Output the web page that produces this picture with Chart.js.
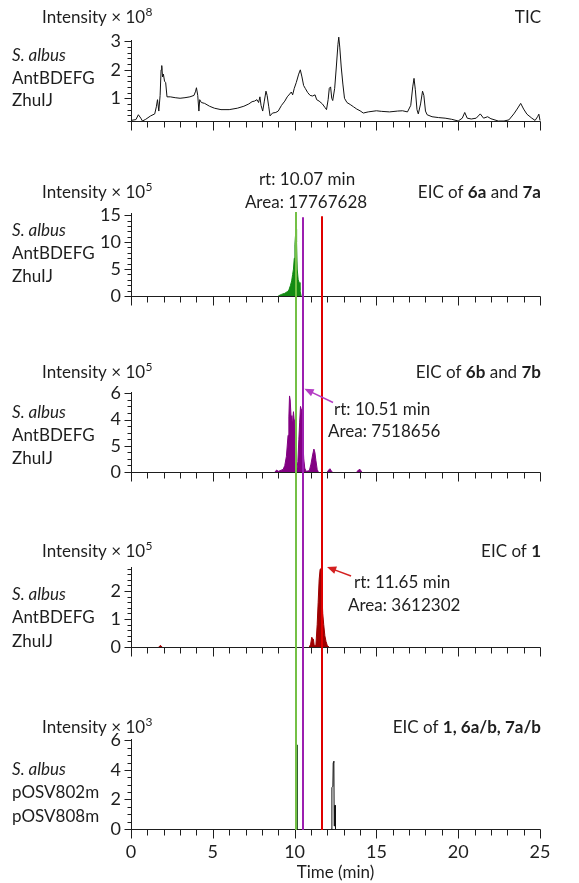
<!DOCTYPE html>
<html>
<head>
<meta charset="utf-8">
<script src="https://cdn.jsdelivr.net/npm/chart.js@4.4.1/dist/chart.umd.min.js"></script>
<style>
  html, body { margin: 0; padding: 0; background: #fff; }
  #wrap { position: relative; width: 579px; height: 883px; }
</style>
</head>
<body>
<div id="wrap"><canvas id="c" width="579" height="883"></canvas></div>
<script>
const FONT = 'Lato, "Open Sans", sans-serif';
const INK = '#1e1e1e';

// shared time axis (min)
const timeTicks = [0, 5, 10, 15, 20, 25];

// TIC, intensity x 10^8
const ticTime = [0, 0.3, 0.45, 0.6, 0.7, 0.9, 1.2, 1.45, 1.55, 1.62, 1.7, 1.78, 1.84, 1.88, 1.93, 1.98, 2.05, 2.12, 2.2, 2.4,
  2.7, 3.0, 3.3, 3.6, 3.85, 3.95, 4.0, 4.08, 4.15, 4.2, 4.3, 4.5, 4.8, 5.1, 5.5, 6.0, 6.5, 6.9, 7.2, 7.4,
  7.55, 7.7, 7.8, 7.88, 7.95, 8.05, 8.15, 8.25, 8.32, 8.42, 8.5, 8.65, 8.85, 9.0, 9.2, 9.4, 9.55, 9.7, 9.8, 9.88,
  9.98, 10.1, 10.25, 10.35, 10.45, 10.55, 10.65, 10.8, 10.95, 11.1, 11.25, 11.35, 11.5, 11.7, 11.85, 11.95, 12.05, 12.12, 12.2, 12.27,
  12.33, 12.45, 12.55, 12.65, 12.7, 12.76, 12.85, 12.95, 13.05, 13.2, 13.4, 13.6, 13.8, 14.0, 14.2, 14.5, 15.0, 15.3, 15.8, 16.3,
  16.6, 16.9, 17.1, 17.22, 17.3, 17.38, 17.48, 17.56, 17.7, 17.82, 17.9, 18.0, 18.1, 18.4, 18.8, 19.2, 19.6, 20.0, 20.25, 20.4,
  20.55, 20.8, 21.1, 21.35, 21.55, 21.8, 22.0, 22.45, 22.8, 23.1, 23.4, 23.6, 23.82, 24.0, 24.2, 24.5, 24.7, 24.85, 24.93, 25.0];
const ticInt = [0.22, 0.25, 0.42, 0.3, 0.2, 0.26, 0.38, 0.45, 0.7, 0.95, 0.55, 1.1, 2.0, 2.15, 1.75, 1.85, 1.6, 1.55, 1.05, 1.05,
  1.02, 1.0, 1.02, 1.05, 1.1, 1.25, 1.37, 1.1, 0.55, 0.95, 0.85, 0.82, 0.72, 0.65, 0.6, 0.6, 0.65, 0.72, 0.8, 0.88,
  0.9, 0.95, 0.85, 1.05, 0.75, 0.55, 0.9, 1.25, 1.1, 0.7, 0.38, 0.48, 0.5, 0.55, 0.75, 0.9, 1.05, 1.15, 1.22, 1.12,
  1.35, 1.55, 1.85, 2.0, 1.75, 1.45, 1.35, 1.2, 1.1, 1.08, 1.12, 0.95, 0.9, 0.8, 0.68, 0.6, 0.95, 1.35, 1.4, 1.0,
  0.92, 1.35, 2.1, 2.9, 3.15, 2.8, 2.1, 1.5, 1.0, 0.85, 0.78, 0.7, 0.62, 0.56, 0.48, 0.52, 0.56, 0.54, 0.52, 0.55,
  0.56, 0.52, 0.75, 1.4, 1.7, 1.3, 0.6, 0.45, 0.8, 1.25, 1.1, 0.55, 0.42, 0.35, 0.32, 0.3, 0.26, 0.2, 0.3, 0.5,
  0.3, 0.27, 0.3, 0.45, 0.3, 0.35, 0.28, 0.2, 0.2, 0.24, 0.45, 0.62, 0.82, 0.62, 0.44, 0.3, 0.22, 0.35, 0.44, 0.22];
const ticTicks = [1, 2, 3];

// EIC of 6a and 7a, intensity x 10^5
const eicATime = [9.0, 9.2, 9.4, 9.55, 9.65, 9.75, 9.82, 9.88, 9.93, 9.98, 10.02, 10.05, 10.09, 10.12, 10.16, 10.22, 10.28, 10.33, 10.4];
const eicAInt = [0, 0.3, 0.5, 0.8, 1.1, 2.0, 2.8, 4.0, 5.0, 7.0, 9.6, 11.0, 12.4, 10.0, 5.0, 3.0, 2.5, 1.0, 0];
const eicATicks = [0, 5, 10, 15];

// EIC of 6b and 7b, intensity x 10^5 (tick labels as printed); null = no signal
const eicBTime = [8.8, 8.9, 9.0, 9.1, 9.3, 9.4, 9.5, 9.6, 9.65, 9.69, 9.73, 9.78, 9.83, 9.88, 9.93, 9.97, 10.02, 10.08, 10.14,
  10.2, 10.26, 10.31, 10.36, 10.4, 10.45, 10.5, 10.56, 10.62, 10.7, 10.9, 11.0, 11.1, 11.18, 11.24, 11.3, 11.38, 11.45, 11.7, 12.0, 12.08,
  12.16, 12.24, 12.3, 13.0, 13.8, 13.9, 14.0, 14.1];
const eicBInt = [0, 0.15, 0.05, 0.1, 0.2, 0.5, 1.2, 2.8, 4.2, 5.8, 5.5, 4.3, 3.9, 3.8, 4.6, 4.0, 2.0, 0.5, 0.2,
  0.8, 2.5, 3.8, 5.0, 4.8, 4.0, 2.5, 1.0, 0.3, 0.05, 0.1, 0.6, 1.3, 1.75, 1.5, 0.9, 0.2, 0, null, 0, 0.15,
  0.25, 0.1, 0, null, 0, 0.15, 0.2, 0];
const eicBTicks = [0, 2, 4, 6];
const eicBTickLabels = ['0', '5', '4', '6'];

// EIC of 1, intensity x 10^5; null = no signal
const eic1Time = [1.7, 1.8, 1.9, 5.0, 10.9, 10.98, 11.05, 11.1, 11.15, 11.2, 11.3, 11.38, 11.44, 11.5, 11.56, 11.62, 11.67, 11.72, 11.78, 11.85,
  11.92, 12.0, 12.1];
const eic1Int = [0, 0.06, 0, null, 0, 0.1, 0.35, 0.3, 0.28, 0.05, 0.05, 0.8, 1.6, 2.4, 2.78, 2.8, 1.9, 1.2, 0.8, 0.4,
  0.2, 0.05, 0];
const eic1Ticks = [0, 1, 2];

// control strain, intensity x 10^3
const ctrlTime = [12.25, 12.28, 12.34, 12.36, 12.4, 12.42, 12.44, 12.48, 12.5];
const ctrlInt = [0, 2.8, 2.9, 4.5, 4.6, 0.2, 1.6, 1.6, 0];
const ctrlSpikeTime = [10.11, 10.12, 10.15, 10.16];
const ctrlSpikeInt = [0, 5.7, 5.7, 0];
const ctrlTicks = [0, 2, 4, 6];

// retention time markers and where each one starts (EIC 6a/7a units)
const rtValues = [10.07, 10.51, 11.65];
const rtTops = [15.6, 14.6, 14.8];
const rtColors = ['#74c046', '#9c1fb0', '#e00000'];

const pts = (xs, ys) => xs.map((x, i) => ({x: x, y: ys[i]}));

const panels = [
  {id: 'y1', min: 0.2, max: 3.05, h: 81, ticks: ticTicks, minor: 0.2},
  {id: 'y2', min: 0, max: 15.4, h: 83, ticks: eicATicks, minor: 1},
  {id: 'y3', min: 0, max: 6.1, h: 80, ticks: eicBTicks, labels: eicBTickLabels, minor: 0.5},
  {id: 'y4', min: 0, max: 2.86, h: 80, ticks: eic1Ticks, minor: 0.2},
  {id: 'y5', min: 0, max: 6.1, h: 90, ticks: ctrlTicks, minor: 0.5}
];
const gaps = [92, 96, 95, 92];

const scales = {
  x: {
    type: 'linear', position: 'bottom', min: 0, max: 25,
    grid: {display: false, drawTicks: true, tickLength: 9},
    border: {display: false},
    ticks: {font: {family: FONT, size: 18}, color: INK, padding: 3, autoSkip: false, maxRotation: 0},
    afterBuildTicks: s => { s.ticks = timeTicks.map(v => ({value: v})); },
    afterFit: s => { s.height = 54; }
  }
};
let w = 20;
panels.forEach((p, i) => {
  scales[p.id] = {
    type: 'linear', position: 'left', stack: 'panels', stackWeight: p.h, weight: w--,
    min: p.min, max: p.max,
    grid: {display: false, drawTicks: true, tickLength: 7},
    border: {display: true, color: INK, width: 1},
    ticks: {
      font: {family: FONT, size: 18}, color: INK, padding: 3, autoSkip: false,
      callback: (v, idx) => p.labels ? p.labels[idx] : String(v)
    },
    afterBuildTicks: s => { s.ticks = p.ticks.map(v => ({value: v})); },
    afterFit: s => { s.width = 131; }
  };
  if (i < gaps.length) {
    scales['gap' + i] = {
      type: 'linear', position: 'left', stack: 'panels', stackWeight: gaps[i], weight: w--,
      min: 0, max: 1, grid: {display: false}, border: {display: false}, ticks: {display: false},
      afterFit: s => { s.width = 131; }
    };
  }
});

const frame = {
  id: 'frame',
  afterDatasetsDraw(chart) {
    const ctx = chart.ctx, xs = chart.scales.x, area = chart.chartArea;
    ctx.save();
    // panel axes and tick marks
    ctx.strokeStyle = INK;
    ctx.lineWidth = 1;
    panels.forEach(p => {
      const ys = chart.scales[p.id];
      const yb = Math.round(ys.bottom) + 0.5;
      ctx.beginPath();
      ctx.moveTo(area.left, yb);
      ctx.lineTo(area.right + 0.5, yb);
      for (let t = 0; t <= 25; t++) {
        const px = Math.round(xs.getPixelForValue(t)) + 0.5;
        ctx.moveTo(px, yb);
        ctx.lineTo(px, yb + (t % 5 === 0 ? 9 : 6));
      }
      const x0 = Math.round(ys.left + ys.width) + 0.5;
      const start = Math.ceil(p.min / p.minor - 1e-6);
      for (let k = start; k * p.minor <= p.max + 1e-6; k++) {
        const v = k * p.minor;
        const py = Math.round(ys.getPixelForValue(v)) + 0.5;
        const major = p.ticks.some(m => Math.abs(m - v) < 1e-6);
        ctx.moveTo(x0, py);
        ctx.lineTo(x0 - (major ? 7 : 4), py);
      }
      ctx.stroke();
    });

    // retention time markers
    const yTop = chart.scales.y2, yBot = chart.scales.y5;
    rtValues.forEach((rt, i) => {
      const px = Math.round(xs.getPixelForValue(rt));
      ctx.strokeStyle = rtColors[i];
      ctx.lineWidth = 2;
      ctx.beginPath();
      ctx.moveTo(px, yTop.getPixelForValue(rtTops[i]));
      ctx.lineTo(px, yBot.getPixelForValue(0) + 1);
      ctx.stroke();
    });

    // arrows to the marked peaks
    const arrow = (ys, from, to, color) => {
      const x1 = xs.getPixelForValue(from[0]), y1 = ys.getPixelForValue(from[1]);
      const x2 = xs.getPixelForValue(to[0]), y2 = ys.getPixelForValue(to[1]);
      const a = Math.atan2(y2 - y1, x2 - x1);
      ctx.strokeStyle = color; ctx.fillStyle = color; ctx.lineWidth = 1.5;
      ctx.beginPath(); ctx.moveTo(x1, y1); ctx.lineTo(x2 - 6 * Math.cos(a), y2 - 6 * Math.sin(a)); ctx.stroke();
      ctx.beginPath();
      ctx.moveTo(x2, y2);
      ctx.lineTo(x2 - 10 * Math.cos(a - 0.4), y2 - 10 * Math.sin(a - 0.4));
      ctx.lineTo(x2 - 10 * Math.cos(a + 0.4), y2 - 10 * Math.sin(a + 0.4));
      ctx.closePath(); ctx.fill();
    };
    arrow(chart.scales.y3, [12.35, 5.3], [10.6, 6.35], '#b43cc4');
    arrow(chart.scales.y4, [13.45, 2.54], [11.98, 2.86], '#d42020');
    ctx.restore();
  },
  afterDraw(chart) {
    const ctx = chart.ctx;
    ctx.save();
    ctx.fillStyle = INK;
    ctx.textBaseline = 'middle';
    const f = (bold, italic, size) => (italic ? 'italic ' : '') + (bold ? 'bold ' : '') + (size || 17) + 'px ' + FONT;
    const rich = (parts, x, y, align) => {
      let total = 0;
      parts.forEach(pt => { ctx.font = f(pt[1]); total += ctx.measureText(pt[0]).width; });
      let cx = align === 'right' ? x - total : align === 'center' ? x - total / 2 : x;
      ctx.textAlign = 'left';
      parts.forEach(pt => { ctx.font = f(pt[1]); ctx.fillText(pt[0], cx, y); cx += ctx.measureText(pt[0]).width; });
    };
    const intensity = (exp, y) => {
      ctx.font = f(false); ctx.textAlign = 'left';
      const s = 'Intensity \u00d7 10';
      ctx.fillText(s, 42, y);
      const wd = ctx.measureText(s).width;
      ctx.font = f(false, false, 12);
      ctx.fillText(exp, 42 + wd + 0.5, y - 6);
    };
    const strain = (rows, y0) => {
      ctx.textAlign = 'left';
      rows.forEach((r, i) => { ctx.font = f(false, i === 0); ctx.fillText(r, 12, y0[i]); });
    };
    const albus = ['S. albus', 'AntBDEFG', 'ZhuIJ'];

    intensity('8', 18);
    rich([['TIC', false]], 541, 18, 'right');
    strain(albus, [56, 79, 101]);

    intensity('5', 193);
    rich([['EIC of ', false], ['6a', true], [' and ', false], ['7a', true]], 541, 193, 'right');
    strain(albus, [231, 254, 277]);
    rich([['rt: 10.07 min', false]], 307, 180, 'center');
    rich([['Area: 17767628', false]], 306, 203, 'center');

    intensity('5', 373);
    rich([['EIC of ', false], ['6b', true], [' and ', false], ['7b', true]], 541, 373, 'right');
    strain(albus, [413, 436, 459]);
    rich([['rt: 10.51 min', false]], 334, 410, 'left');
    rich([['Area: 7518656', false]], 328, 432, 'left');

    intensity('5', 552);
    rich([['EIC of ', false], ['1', true]], 541, 552, 'right');
    strain(albus, [595, 618, 642]);
    rich([['rt: 11.65 min', false]], 354, 583, 'left');
    rich([['Area: 3612302', false]], 348, 606, 'left');

    intensity('3', 728);
    rich([['EIC of ', false], ['1, 6a/b, 7a/b', true]], 541, 728, 'right');
    strain(['S. albus', 'pOSV802m', 'pOSV808m'], [770, 793, 817]);

    const area = chart.chartArea;
    rich([['Time (min)', false]], (area.left + area.right) / 2, 873, 'center');
    ctx.restore();
  }
};

const line = (xs, ys, axis, color, fill) => ({
  data: pts(xs, ys), yAxisID: axis, xAxisID: 'x',
  borderColor: color, backgroundColor: color, borderWidth: 1,
  fill: fill ? 'origin' : false, pointRadius: 0, tension: 0, clip: false, spanGaps: false
});

new Chart(document.getElementById('c'), {
  type: 'line',
  data: {
    datasets: [
      line(ticTime, ticInt, 'y1', '#111111', false),
      line(eicATime, eicAInt, 'y2', '#138a13', true),
      line(eicBTime, eicBInt, 'y3', '#820082', true),
      line(eic1Time, eic1Int, 'y4', '#9e0000', true),
      line(ctrlSpikeTime, ctrlSpikeInt, 'y5', '#2e5a2e', false),
      line(ctrlTime, ctrlInt, 'y5', '#111111', false)
    ]
  },
  options: {
    responsive: false,
    animation: false,
    devicePixelRatio: 1,
    layout: {padding: {top: 40, right: 39, left: 0, bottom: 0}},
    plugins: {legend: {display: false}, tooltip: {enabled: false}, title: {display: false}},
    scales: scales
  },
  plugins: [frame]
});
</script>
</body>
</html>
